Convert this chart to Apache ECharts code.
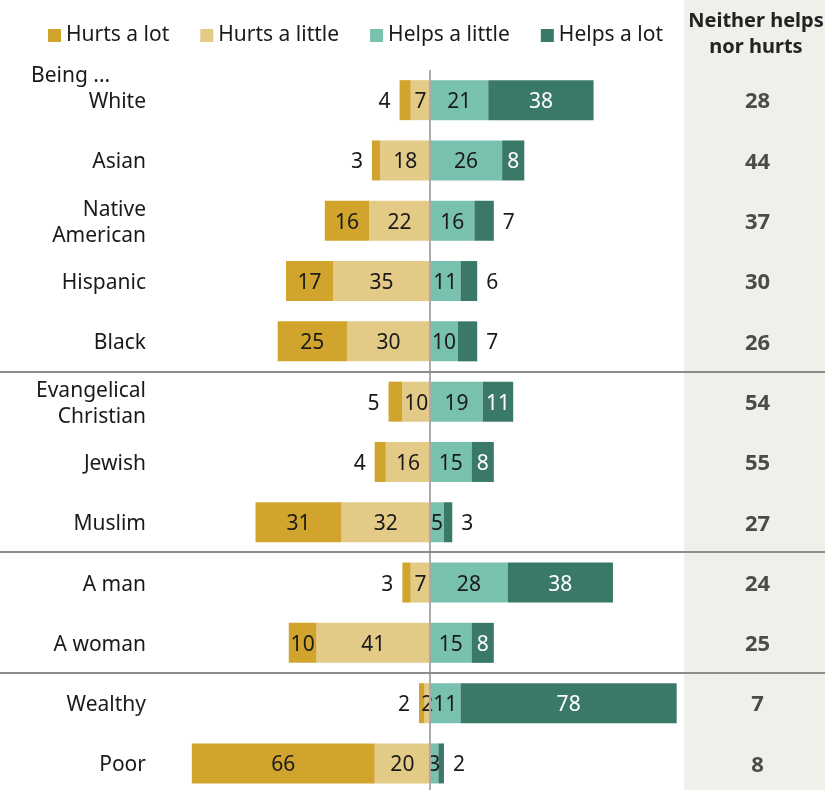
<!DOCTYPE html>
<html>
<head>
<meta charset="utf-8">
<script src="https://cdn.jsdelivr.net/npm/echarts@6/dist/echarts.min.js"></script>
<style>
html,body{margin:0;padding:0;background:#fff;}
#chart{width:835px;height:790px;}
</style>
</head>
<body>
<div id="chart"></div>
<script>
const categories = ['White','Asian','Native\nAmerican','Hispanic','Black','Evangelical\nChristian','Jewish','Muslim','A man','A woman','Wealthy','Poor'];
const hurtsALot    = [4, 3, 16, 17, 25, 5, 4, 31, 3, 10, 2, 66];
const hurtsALittle = [7, 18, 22, 35, 30, 10, 16, 32, 7, 41, 2, 20];
const helpsALittle = [21, 26, 16, 11, 10, 19, 15, 5, 28, 15, 11, 3];
const helpsALot    = [38, 8, 7, 6, 7, 11, 8, 3, 38, 8, 78, 2];
const neither      = [28, 44, 37, 30, 26, 54, 55, 27, 24, 25, 7, 8];
const groupEnds = [4, 7, 9];

const FONT = '"Noto Sans", "Liberation Sans", Arial, sans-serif';
const TXT = '#1a1a1a';
const C_HLOT = '#D1A42E', C_HLIT = '#E3CA86', C_PLIT = '#79C1AF', C_PLOT = '#3A7868';
const FS = 21;

const chart = echarts.init(document.getElementById('chart'));

const baseLabel = {
  show: true,
  fontFamily: FONT,
  fontSize: FS,
  color: TXT,
  offset: [0, 2],
  formatter: p => Math.abs(p.value)
};

const option = {
  animation: false,
  textStyle: {fontFamily: FONT},
  legend: {
    left: 43,
    top: 20,
    icon: 'rect',
    itemWidth: 13,
    itemHeight: 13,
    itemGap: 31,
    textStyle: {fontFamily: FONT, fontSize: FS, color: TXT},
    data: ['Hurts a lot', 'Hurts a little', 'Helps a little', 'Helps a lot']
  },
  grid: [
    {left: 153, width: 532, top: 70, height: 723.6, outerBoundsMode: 'none', containLabel: false},
    {left: 684, width: 141, top: 70, height: 723.6, outerBoundsMode: 'none', containLabel: false}
  ],
  xAxis: [
    {type: 'value', gridIndex: 0, min: -100, max: 92, show: false},
    {type: 'value', gridIndex: 1, min: 0, max: 1, show: false}
  ],
  yAxis: [
    {
      type: 'category', gridIndex: 0, inverse: true, data: categories,
      axisLine: {show: false, onZero: false}, axisTick: {show: false},
      axisLabel: {
        fontFamily: FONT, fontSize: FS, color: TXT, margin: 7, align: 'right',
        formatter: v => '{c|' + v.split('\n').join('}\n{c|') + '}',
        rich: {c: {fontFamily: FONT, fontSize: FS, color: TXT, lineHeight: 26, padding: [4, 0, 0, 0], align: 'right'}}
      }
    },
    {
      type: 'category', gridIndex: 1, inverse: true, data: categories, show: false
    }
  ],
  series: [
    {
      name: 'Hurts a little', type: 'bar', stack: 'total', barWidth: 40,
      itemStyle: {color: C_HLIT},
      label: Object.assign({}, baseLabel, {position: 'inside'}),
      data: hurtsALittle.map(v => -v)
    },
    {
      name: 'Hurts a lot', type: 'bar', stack: 'total', barWidth: 40,
      itemStyle: {color: C_HLOT},
      label: Object.assign({}, baseLabel),
      data: hurtsALot.map(v => ({
        value: -v,
        label: v <= 5 ? {position: 'left', distance: 9} : {position: 'inside'}
      }))
    },
    {
      name: 'Helps a little', type: 'bar', stack: 'total', barWidth: 40,
      itemStyle: {color: C_PLIT},
      label: Object.assign({}, baseLabel, {position: 'inside'}),
      data: helpsALittle,
      markLine: {
        silent: true, symbol: 'none', label: {show: false},
        lineStyle: {color: '#ABABAB', width: 2, type: 'solid'},
        data: [{xAxis: 0}],
        z: 10
      }
    },
    {
      name: 'Helps a lot', type: 'bar', stack: 'total', barWidth: 40,
      itemStyle: {color: C_PLOT},
      label: Object.assign({}, baseLabel),
      data: helpsALot.map(v => ({
        value: v,
        label: v <= 7 ? {position: 'right', distance: 9, color: TXT} : {position: 'inside', color: '#ffffff'}
      }))
    },
    {
      name: 'Neither', type: 'scatter', xAxisIndex: 1, yAxisIndex: 1,
      symbolSize: 0, itemStyle: {color: 'rgba(0,0,0,0)'},
      label: {show: true, position: 'inside', fontFamily: FONT, fontSize: 22, fontWeight: 'bold', color: '#222',
        offset: [3, 2], formatter: p => neither[p.dataIndex]},
      data: neither.map((v, i) => [0.5, categories[i]])
    }
  ],
  graphic: [
    {type: 'rect', z: -10, silent: true, shape: {x: 684, y: 0, width: 141, height: 790}, style: {fill: '#F0EFEA'}},
    {type: 'text', x: 756, y: 34, z: 5, style: {
      text: 'Neither helps\nnor hurts', font: 'bold 20px ' + FONT, fill: '#222',
      align: 'center', verticalAlign: 'middle', lineHeight: 26
    }},
    {type: 'text', x: 31, y: 76, style: {text: 'Being ...', font: FS + 'px ' + FONT, fill: TXT, verticalAlign: 'middle'}}
  ]
};

chart.setOption(option);

// group separators between category rows
const seps = groupEnds.map(i => {
  const y1 = chart.convertToPixel({yAxisIndex: 0}, categories[i]);
  const y2 = chart.convertToPixel({yAxisIndex: 0}, categories[i + 1]);
  const y = Math.round((y1 + y2) / 2);
  return {type: 'line', z: 20, silent: true, shape: {x1: 0, y1: y, x2: 825, y2: y}, style: {stroke: '#8C8C8C', lineWidth: 2}};
});
chart.setOption({graphic: option.graphic.concat(seps)});
</script>
</body>
</html>
